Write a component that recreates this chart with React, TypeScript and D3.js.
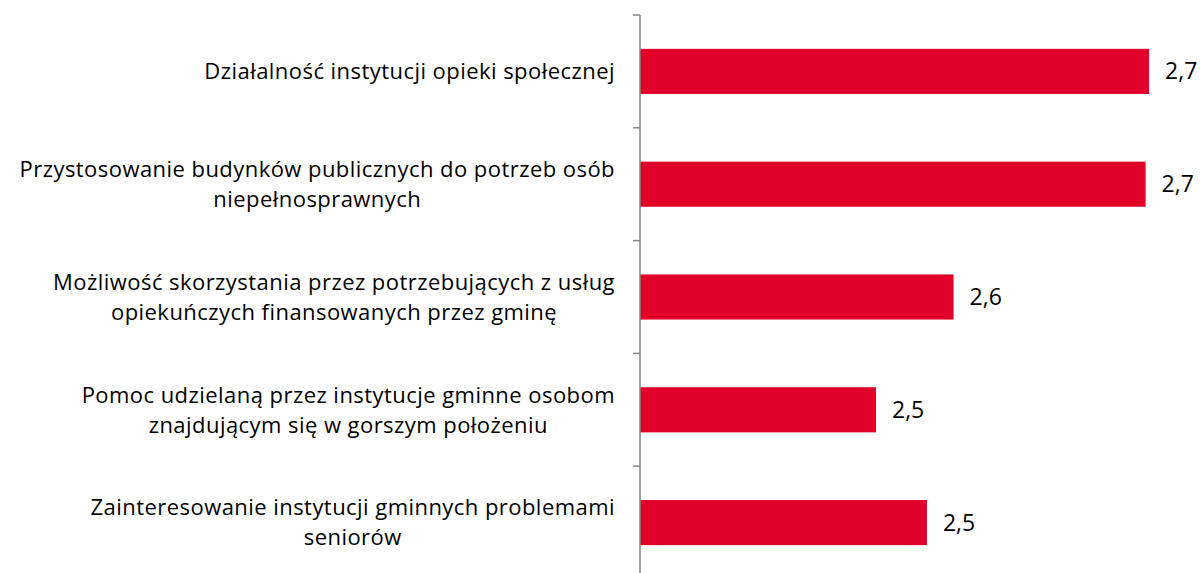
import * as d3 from "d3";
import { useEffect, useRef } from "react";

// kategorie (linie etykiet) i wartości
const categories = [
  ["Działalność instytucji opieki społecznej"],
  ["Przystosowanie budynków publicznych do potrzeb osób", "niepełnosprawnych"],
  ["Możliwość skorzystania przez potrzebujących z usług", "opiekuńczych finansowanych przez gminę"],
  ["Pomoc udzielaną przez instytucje gminne osobom", "znajdującym się w gorszym położeniu"],
  ["Zainteresowanie instytucji gminnych problemami", "seniorów"],
];
const values = [2.74, 2.737, 2.571, 2.504, 2.548];

const W = 1200;
const H = 573;
const FONT = "'Open Sans', sans-serif";

const App = () => {
  const svgRef = useRef<SVGSVGElement>(null);

  useEffect(() => {
    const svg = d3.select(svgRef.current);
    svg.selectAll("*").remove();

    const ids = categories.map((_, i) => i);
    const y = d3.scaleBand<number>().domain(ids).range([15, 579]).paddingInner(0.6).paddingOuter(0.3);
    const yTicks = d3.scaleBand<number>().domain(ids).range([15, 579]);
    const x = d3.scaleLinear().domain([2.3, 2.8]).range([640, 1218.5]);

    // słupki
    svg.selectAll(".bar")
      .data(values)
      .enter()
      .append("rect")
      .attr("x", x(2.3))
      .attr("y", (_, i) => y(i)!)
      .attr("width", d => x(d) - x(2.3))
      .attr("height", y.bandwidth())
      .attr("fill", "#e0002a");

    // oś pionowa
    svg.append("line")
      .attr("x1", 640).attr("x2", 640)
      .attr("y1", 15).attr("y2", H)
      .attr("stroke", "#868686").attr("stroke-width", 1.5);
    svg.selectAll(".tick")
      .data(ids)
      .enter()
      .append("line")
      .attr("x1", 633).attr("x2", 640)
      .attr("y1", i => yTicks(i)!).attr("y2", i => yTicks(i)!)
      .attr("stroke", "#868686").attr("stroke-width", 1.5);

    // wartości
    svg.selectAll(".val")
      .data(values)
      .enter()
      .append("text")
      .attr("x", d => x(d) + 16)
      .attr("y", (_, i) => y(i)! + y.bandwidth() / 2)
      .attr("dy", "0.35em")
      .style("font-family", FONT)
      .style("font-size", "23px")
      .style("fill", "#000")
      .text(d => d.toFixed(1).replace(".", ","));

    // etykiety kategorii: wyśrodkowane w bloku wyrównanym do prawej
    const lineH = 30;
    categories.forEach((lines, i) => {
      const cy = y(i)! + y.bandwidth() / 2;
      const t = svg.append("text")
        .attr("text-anchor", "middle")
        .style("font-family", FONT)
        .style("font-size", "22px")
        .style("letter-spacing", "0.45px")
        .style("fill", "#000");
      const spans = lines.map((ln, j) =>
        t.append("tspan")
          .attr("y", cy + (j - (lines.length - 1) / 2) * lineH)
          .attr("dy", "0.35em")
          .text(ln)
      );
      const maxW = d3.max(spans, s => (s.node() as SVGTSpanElement).getComputedTextLength()) || 0;
      spans.forEach(s => s.attr("x", 615 - maxW / 2));
    });
  }, []);

  return <svg ref={svgRef} width={W} height={H} style={{ position: "absolute", left: 0, top: 0 }} />;
};

export default App;
